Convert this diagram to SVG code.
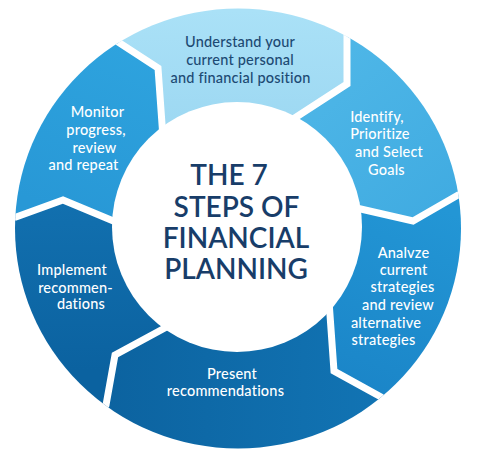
<svg xmlns="http://www.w3.org/2000/svg" width="480" height="459" viewBox="0 0 480 459">
<defs>
<clipPath id="ring"><ellipse cx="238" cy="228.5" rx="223" ry="220"/></clipPath>
<linearGradient id="gU" gradientUnits="userSpaceOnUse" x1="0" y1="10" x2="0" y2="130"><stop offset="0" stop-color="#aae1f7"/><stop offset="1" stop-color="#9dd8f2"/></linearGradient>
<linearGradient id="gI" gradientUnits="userSpaceOnUse" x1="300" y1="40" x2="440" y2="220"><stop offset="0" stop-color="#50b8e8"/><stop offset="1" stop-color="#40abe1"/></linearGradient>
<linearGradient id="gA" gradientUnits="userSpaceOnUse" x1="420" y1="200" x2="340" y2="400"><stop offset="0" stop-color="#2396d5"/><stop offset="1" stop-color="#1a84c7"/></linearGradient>
<linearGradient id="gP" gradientUnits="userSpaceOnUse" x1="110" y1="0" x2="400" y2="0"><stop offset="0" stop-color="#0c63a0"/><stop offset="1" stop-color="#1275b5"/></linearGradient>
<linearGradient id="gM" gradientUnits="userSpaceOnUse" x1="0" y1="370" x2="0" y2="200"><stop offset="0" stop-color="#0b62a0"/><stop offset="1" stop-color="#1270af"/></linearGradient>
<linearGradient id="gO" gradientUnits="userSpaceOnUse" x1="120" y1="40" x2="60" y2="210"><stop offset="0" stop-color="#2ea3de"/><stop offset="1" stop-color="#2898d6"/></linearGradient>
<style>
.lbl{font-family:Lato,"Open Sans","Liberation Sans",sans-serif;font-size:14.5px;font-weight:500;fill:#ffffff;text-anchor:middle;letter-spacing:0.2px}
.dark{fill:#1d4a73}
.title{font-family:Lato,"Open Sans","Liberation Sans",sans-serif;font-size:28px;font-weight:600;fill:#183d69;text-anchor:middle}
.sep{fill:none;stroke:#ffffff;stroke-width:7;stroke-linejoin:miter}
</style>
</defs>
<rect width="480" height="459" fill="#ffffff"/>
<g clip-path="url(#ring)">
<g id="seg-understand"><polygon fill="url(#gU)" points="238,228 163,138 158,68 118,42 21,-108 435,-120 347,35 347,84 287,123"/></g>
<g id="seg-identify"><polygon fill="url(#gI)" points="238,228 287,123 347,84 347,35 435,-120 634,169 458,195 413,221 352,207"/></g>
<g id="seg-analyze"><polygon fill="url(#gA)" points="238,228 352,207 413,221 458,195 634,169 496,533 381,397 334,371 329,301"/></g>
<g id="seg-present"><polygon fill="url(#gP)" points="238,228 329,301 334,371 381,397 496,533 -1,549 106,405 115,355 174,323"/></g>
<g id="seg-implement"><polygon fill="url(#gM)" points="238,228 174,323 115,355 106,405 -1,549 -162,208 16,217 63,200 123,225"/></g>
<g id="seg-monitor"><polygon fill="url(#gO)" points="238,228 123,225 63,200 16,217 -162,208 21,-108 118,42 158,68 163,138"/></g>
<g id="connectors">
<polyline class="sep" points="163,138 158,68 118,42 21,-108"/>
<polyline class="sep" points="287,123 347,84 347,35 435,-120"/>
<polyline class="sep" points="352,207 413,221 458,195 634,169"/>
<polyline class="sep" points="329,301 334,371 381,397 496,533"/>
<polyline class="sep" points="174,323 115,355 106,405 -1,549"/>
<polyline class="sep" points="123,225 63,200 16,217 -162,208"/>
</g>
</g>
<g id="center">
<circle cx="237" cy="227" r="125" fill="#ffffff"/>
<text class="title" x="229" y="185">THE 7</text>
<text class="title" x="236.5" y="217">STEPS OF</text>
<text class="title" x="236" y="248">FINANCIAL</text>
<text class="title" x="236" y="279">PLANNING</text>
</g>
<g id="text-understand">
<text class="lbl dark" x="240" y="47">Understand your</text>
<text class="lbl dark" x="240" y="65">current personal</text>
<text class="lbl dark" x="240.5" y="83">and financial position</text>
</g>
<g id="text-identify">
<text class="lbl" x="377" y="122">Identify,</text>
<text class="lbl" x="380" y="139">Prioritize</text>
<text class="lbl" x="389" y="157">and Select</text>
<text class="lbl" x="386.5" y="175">Goals</text>
</g>
<g id="text-analyze">
<text class="lbl" x="403.5" y="258">Analvze</text>
<text class="lbl" x="403.5" y="275">current</text>
<text class="lbl" x="402.5" y="292">strategies</text>
<text class="lbl" x="398" y="310">and review</text>
<text class="lbl" x="386" y="328">alternative</text>
<text class="lbl" x="383.5" y="345">strategies</text>
</g>
<g id="text-present">
<text class="lbl" x="232" y="379">Present</text>
<text class="lbl" x="225.5" y="396">recommendations</text>
</g>
<g id="text-implement">
<text class="lbl" x="72" y="275">Implement</text>
<text class="lbl" x="75.5" y="293">recommen-</text>
<text class="lbl" x="81" y="309">dations</text>
</g>
<g id="text-monitor">
<text class="lbl" x="97.5" y="117">Monitor</text>
<text class="lbl" x="96" y="135">progress,</text>
<text class="lbl" x="94.5" y="153">review</text>
<text class="lbl" x="83.5" y="170">and repeat</text>
</g>
</svg>
